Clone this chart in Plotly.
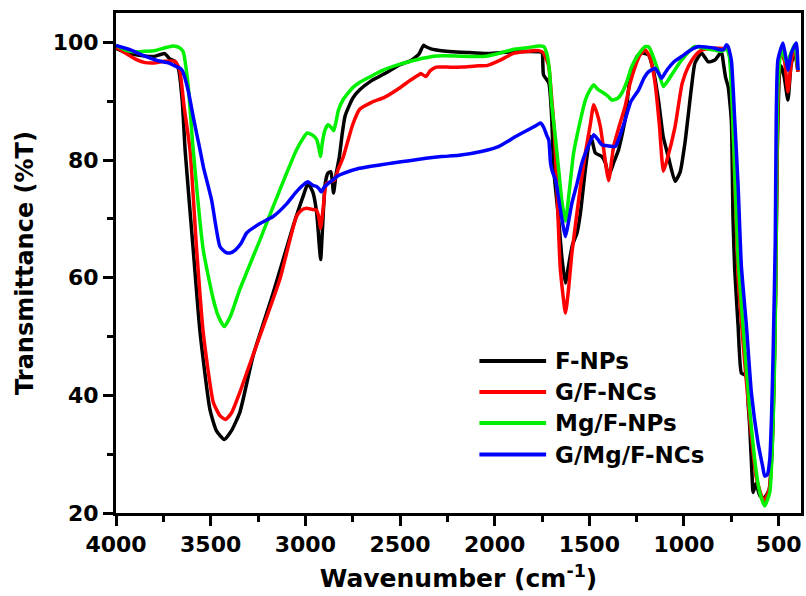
import plotly.graph_objects as go

# ---------------- data ----------------
series_names = ["F-NPs", "G/F-NCs", "Mg/F-NPs", "G/Mg/F-NCs"]
series_colors = ["#000000", "#ff0000", "#00f000", "#0000ff"]

x_tick_vals = [4000, 3500, 3000, 2500, 2000, 1500, 1000, 500]
x_tick_text = ["4000", "3500", "3000", "2500", "2000", "1500", "1000", "500"]
x_minor_vals = [3750, 3250, 2750, 2250, 1750, 1250, 750]
y_tick_vals = [20, 40, 60, 80, 100]
y_tick_text = ["20", "40", "60", "80", "100"]
y_minor_vals = [30, 50, 70, 90]

fnps_wn = [4000, 3950, 3878, 3800, 3743, 3716, 3690, 3670, 3650, 3635, 3592, 3556, 3504, 3470, 3428,
           3390, 3346, 3276, 3170, 3065, 3010, 2986, 2960, 2940, 2925, 2919, 2910, 2895, 2880, 2865,
           2851, 2838, 2820, 2805, 2790, 2750, 2714, 2650, 2580, 2500, 2444, 2400, 2376, 2365, 2336,
           2282, 2150, 2038, 1903, 1767, 1750, 1742, 1714, 1700, 1688, 1662, 1644, 1626, 1610, 1590,
           1565, 1547, 1521, 1495, 1486, 1468, 1434, 1415, 1398, 1372, 1346, 1311, 1284, 1250, 1223,
           1188, 1160, 1135, 1110, 1083, 1047, 1020, 995, 960, 942, 907, 872, 837, 802, 792,
           780, 767, 750, 741, 732, 714, 697, 680, 670, 660, 653, 640, 635, 620, 600,
           578, 550, 530, 516, 507, 495, 486, 470, 451, 435, 416, 398]
fnps_t = [99.0, 98.3, 97.8, 97.6, 98.1, 97.2, 96.8, 95.5, 90.0, 81.7, 64.7, 50.7, 37.6, 34.0, 32.5,
          34.0, 37.1, 46.7, 57.4, 68.7, 74.0, 76.0, 74.5, 71.0, 65.0, 63.1, 68.0, 76.0, 77.8, 78.0,
          74.4, 77.5, 80.6, 84.5, 87.5, 90.5, 91.9, 93.5, 94.7, 96.2, 96.9, 98.0, 99.5, 99.3, 98.9,
          98.6, 98.3, 98.1, 98.4, 98.4, 98.3, 94.5, 93.1, 88.0, 78.4, 69.9, 63.1, 59.1, 62.0, 65.5,
          67.6, 71.0, 78.4, 84.0, 83.4, 81.2, 80.6, 79.5, 77.3, 79.5, 81.7, 86.8, 94.2, 97.5, 98.2,
          97.9, 95.0, 90.2, 84.0, 80.6, 76.4, 78.0, 82.9, 92.5, 96.5, 98.2, 96.7, 97.0, 98.4, 96.5,
          94.0, 92.5, 86.8, 69.9, 61.4, 51.7, 43.8, 43.5, 43.3, 38.0, 34.8, 26.0, 23.5, 25.0, 23.0,
          22.5, 24.0, 35.0, 58.0, 82.0, 95.0, 96.0, 94.0, 90.2, 96.0, 98.5, 95.0]

gfncs_wn = [4000, 3940, 3900, 3851, 3800, 3743, 3689, 3665, 3640, 3609, 3574, 3539, 3486, 3450, 3421,
            3390, 3346, 3310, 3240, 3135, 3047, 3020, 2995, 2960, 2942, 2930, 2919, 2905, 2889, 2846,
            2828, 2800, 2750, 2714, 2650, 2580, 2500, 2444, 2400, 2390, 2363, 2340, 2309, 2250, 2174,
            2100, 2038, 1970, 1903, 1800, 1767, 1745, 1725, 1714, 1700, 1685, 1672, 1653, 1626, 1610,
            1592, 1547, 1521, 1495, 1477, 1460, 1442, 1425, 1398, 1372, 1340, 1311, 1285, 1258, 1230,
            1205, 1180, 1153, 1130, 1109, 1090, 1047, 1010, 977, 940, 907, 837, 784, 770, 755,
            740, 714, 688, 653, 618, 578, 550, 530, 516, 505, 490, 470, 451, 430, 416, 398]
gfncs_t = [99.2, 98.0, 97.2, 96.6, 96.5, 96.8, 96.8, 95.5, 89.0, 81.7, 64.7, 50.6, 38.8, 36.5, 35.9,
           37.0, 40.5, 43.8, 50.1, 59.7, 70.4, 71.5, 71.8, 71.6, 71.5, 70.5, 68.4, 72.0, 76.0, 76.6,
           78.3, 80.5, 86.0, 88.6, 89.8, 90.7, 92.3, 93.6, 94.5, 94.7, 94.2, 95.2, 95.8, 95.8, 95.8,
           96.0, 96.1, 97.0, 98.1, 98.6, 98.6, 98.3, 97.0, 95.9, 91.0, 85.0, 76.0, 61.4, 54.0, 58.0,
           64.2, 75.5, 81.2, 86.0, 89.4, 88.0, 85.7, 82.0, 76.5, 82.3, 86.0, 89.1, 93.0, 95.9, 98.0,
           98.7, 97.5, 93.1, 86.0, 78.1, 80.0, 85.7, 93.0, 95.9, 97.8, 98.7, 99.0, 99.0, 99.3, 97.0,
           85.0, 60.0, 49.0, 36.0, 26.0, 22.0, 24.0, 36.0, 58.0, 88.0, 98.0, 97.0, 91.6, 97.5, 99.0, 95.0]

mgfnps_wn = [4000, 3950, 3905, 3850, 3797, 3740, 3700, 3680, 3660, 3645, 3620, 3592, 3539, 3486, 3460,
             3428, 3395, 3346, 3240, 3135, 3047, 3010, 2990, 2960, 2940, 2928, 2920, 2910, 2895, 2880,
             2862, 2850, 2838, 2825, 2800, 2750, 2714, 2650, 2580, 2500, 2444, 2380, 2309, 2200, 2100,
             2038, 1960, 1903, 1830, 1767, 1740, 1723, 1710, 1700, 1680, 1662, 1645, 1626, 1605, 1583,
             1547, 1521, 1495, 1477, 1455, 1434, 1400, 1381, 1350, 1328, 1300, 1276, 1240, 1205, 1185,
             1170, 1140, 1109, 1085, 1065, 1013, 942, 880, 837, 800, 775, 760, 745, 730, 714,
             688, 653, 618, 596, 574, 547, 530, 521, 516, 510, 504, 486, 460, 442, 416, 398]
mgfnps_t = [99.5, 98.7, 98.4, 98.5, 98.6, 99.1, 99.4, 99.3, 99.0, 98.4, 93.0, 81.7, 64.7, 56.3, 53.5,
            51.7, 53.5, 58.0, 66.4, 74.9, 81.7, 83.8, 84.6, 84.2, 83.5, 82.0, 80.6, 83.0, 85.2, 86.0,
            85.5, 85.0, 86.5, 88.5, 90.3, 92.3, 93.2, 94.3, 95.4, 96.3, 96.8, 97.3, 97.7, 97.7, 97.6,
            97.7, 98.3, 98.8, 99.1, 99.4, 99.3, 97.9, 95.0, 90.0, 84.0, 78.4, 73.0, 69.6, 75.0, 81.2,
            86.8, 90.2, 92.0, 92.8, 92.0, 91.6, 90.8, 90.2, 90.5, 91.4, 93.5, 95.9, 98.0, 99.3, 99.2,
            98.2, 95.5, 92.5, 93.5, 94.5, 97.0, 99.3, 98.9, 98.7, 98.5, 99.0, 97.5, 89.0, 76.0, 63.1,
            51.7, 37.6, 26.9, 23.0, 21.2, 23.5, 34.8, 46.1, 57.4, 80.0, 92.5, 99.3, 96.5, 97.6, 99.6, 95.3]

gmgfncs_wn = [4000, 3920, 3851, 3780, 3720, 3689, 3660, 3648, 3620, 3590, 3556, 3539, 3495, 3451, 3420,
              3398, 3370, 3340, 3310, 3240, 3170, 3100, 3050, 3010, 2986, 2960, 2940, 2925, 2916, 2900,
              2880, 2855, 2830, 2802, 2714, 2600, 2539, 2450, 2363, 2280, 2188, 2065, 1980, 1889, 1820,
              1780, 1758, 1740, 1725, 1714, 1705, 1695, 1679, 1653, 1626, 1610, 1592, 1565, 1539, 1510,
              1477, 1455, 1434, 1400, 1363, 1340, 1311, 1280, 1240, 1210, 1188, 1153, 1135, 1118, 1100,
              1083, 1050, 1013, 970, 925, 880, 837, 802, 790, 776, 767, 750, 732, 714, 697,
              670, 644, 609, 585, 574, 560, 547, 538, 530, 518, 513, 504, 477, 460, 451,
              433, 407, 398]
gmgfncs_t = [99.5, 98.7, 97.7, 96.9, 96.5, 96.0, 95.6, 95.1, 92.0, 87.0, 81.7, 78.9, 73.2, 65.3, 64.3,
             64.2, 64.7, 65.8, 67.6, 69.2, 70.4, 72.5, 74.5, 75.8, 76.3, 75.7, 75.5, 75.0, 74.6, 75.4,
             76.0, 76.6, 77.3, 77.7, 78.6, 79.2, 79.5, 79.9, 80.3, 80.6, 80.8, 81.5, 82.3, 84.0, 85.2,
             85.9, 86.3, 85.5, 84.2, 83.4, 79.5, 78.0, 76.7, 71.6, 67.0, 69.5, 72.7, 76.0, 79.5, 82.0,
             84.3, 83.5, 82.6, 82.4, 82.3, 84.0, 86.8, 90.0, 91.9, 94.0, 95.0, 95.6, 94.8, 93.9, 94.8,
             95.6, 96.8, 97.6, 98.6, 99.3, 99.2, 99.0, 98.7, 98.8, 99.6, 99.3, 97.0, 86.8, 75.5, 62.0,
             51.7, 40.4, 31.9, 28.0, 26.3, 26.5, 29.1, 36.0, 46.1, 66.0, 86.8, 97.0, 99.9, 97.0, 95.3,
             98.2, 99.9, 95.3]

series_x = [fnps_wn, gfncs_wn, mgfnps_wn, gmgfncs_wn]
series_y = [fnps_t, gfncs_t, mgfnps_t, gmgfncs_t]
for xs, ys in zip(series_x, series_y):
    assert len(xs) == len(ys), (len(xs), len(ys))

# ---------------- figure ----------------
W, H = 806, 596
L, R, T, B = 116, 2, 13, 83
PW, PH = W - L - R, H - T - B
FONT = "DejaVu Sans"

fig = go.Figure()
for name, color, xs, ys in zip(series_names, series_colors, series_x, series_y):
    fig.add_trace(go.Scatter(x=xs, y=ys, mode="lines", name=name,
                             line=dict(color=color, width=3.5, shape="spline", smoothing=0.5),
                             showlegend=False))

def px_x(p):
    return (p - L) / PW

def px_y(p):
    return (H - B - p) / PH

# custom legend (long line samples as in the original)
legend_rows = [361, 392, 423, 454.5]
for name, color, ry in zip(series_names, series_colors, legend_rows):
    fig.add_shape(type="line", xref="paper", yref="paper",
                  x0=px_x(481), x1=px_x(548), y0=px_y(ry), y1=px_y(ry),
                  line=dict(color=color, width=4))
    fig.add_annotation(xref="paper", yref="paper", x=px_x(555), y=px_y(ry),
                       xanchor="left", yanchor="middle", showarrow=False, text=name,
                       font=dict(family=FONT, size=23, color="black", weight="bold"))

fig.update_layout(
    width=W, height=H,
    margin=dict(l=L, r=R, t=T, b=B, pad=0),
    paper_bgcolor="white", plot_bgcolor="white",
    showlegend=False,
)
fig.update_xaxes(
    range=[4000, 382], showgrid=False, zeroline=False,
    showline=True, linecolor="black", linewidth=3, mirror=True,
    ticks="outside", ticklen=10, tickwidth=3, tickcolor="black",
    tickmode="array", tickvals=x_tick_vals, ticktext=x_tick_text,
    tickfont=dict(family=FONT, size=22, color="black", weight="bold"),
    minor=dict(tickmode="array", tickvals=x_minor_vals, ticks="outside", ticklen=6,
               tickwidth=3, tickcolor="black", showgrid=False),
    title=dict(text="Wavenumber (cm<sup>-1</sup>)", standoff=14,
               font=dict(family=FONT, size=25, color="black", weight="bold")),
)
fig.update_yaxes(
    range=[20, 105], showgrid=False, zeroline=False,
    showline=True, linecolor="black", linewidth=3, mirror=True,
    ticks="outside", ticklen=10, tickwidth=3, tickcolor="black",
    tickmode="array", tickvals=y_tick_vals, ticktext=y_tick_text,
    tickfont=dict(family=FONT, size=22, color="black", weight="bold"),
    minor=dict(tickmode="array", tickvals=y_minor_vals, ticks="outside", ticklen=6,
               tickwidth=3, tickcolor="black", showgrid=False),
    title=dict(text="Transmittance (%T)", standoff=13,
               font=dict(family=FONT, size=24, color="black", weight="bold")),
)

fig.write_html("out.html")
